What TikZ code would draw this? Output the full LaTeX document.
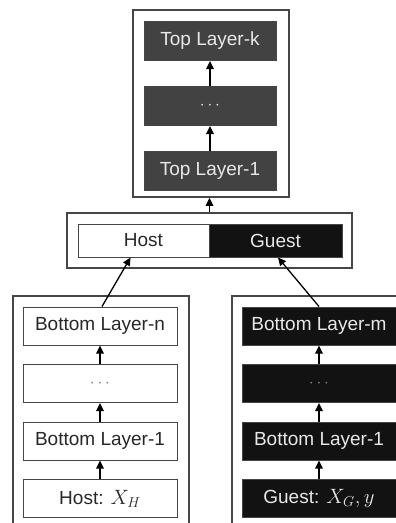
\documentclass[tikz,border=0pt]{standalone}
\usepackage{fontspec}
\setmainfont{Liberation Sans}
\usepackage{tikz}
\usetikzlibrary{positioning,arrows.meta,calc}
\definecolor{TopGray}{RGB}{66,66,66}
\definecolor{GuestBlack}{RGB}{18,18,18}
\definecolor{TextLight}{RGB}{232,232,232}
\definecolor{TextDark}{RGB}{40,40,40}
\definecolor{LineGray}{RGB}{70,70,70}
\newcommand{\bigmath}[1]{{\fontsize{22}{24}\selectfont$#1$}}

\begin{document}
\begin{tikzpicture}[
x=1pt,y=-1pt,
node distance=25pt,
layer/.style={rectangle,draw=LineGray,line width=1pt,fill=white,text=TextDark,minimum width=154pt,minimum height=38pt,inner sep=0pt,font=\fontsize{19}{22}\selectfont},
toplayer/.style={layer,fill=TopGray,text=TextLight,minimum width=132pt,minimum height=39pt},
guestlayer/.style={layer,fill=GuestBlack,text=TextLight},
frame/.style={rectangle,draw=LineGray,line width=1.5pt,inner sep=0pt},
arrow/.style={-{Triangle[length=8pt,width=7.5pt]},line width=1.3pt,draw=black}
]
\clip (0,0) rectangle (396,523);
\fill[white] (0,0) rectangle (396,523);
% top part
\node[frame,minimum width=156pt,minimum height=187pt] (topbox) at (211,103.5) {};
\node[toplayer] (tk) at (210,41) {Top Layer-k};
\node[toplayer,below=of tk] (tdots) {\fontsize{16}{18}\selectfont$\cdots$};
\node[toplayer,below=of tdots] (t1) {Top Layer-1};
\draw[arrow] (t1) -- (tdots); \draw[arrow] (tdots) -- (tk);
% interface
\node[frame,minimum width=285pt,minimum height=55pt] (midbox) at (209.5,240.5) {};
\node[layer,minimum width=131pt,minimum height=33pt] (host) at (143.5,240.5) {Host};
\node[guestlayer,minimum width=133pt,minimum height=33pt] (guest) at (275.5,240.5) {Guest};
\draw[arrow] (midbox.north) -- (midbox.north |- topbox.south);
% host side
\node[frame,minimum width=176pt,minimum height=231pt] (hostbox) at (101,411.5) {};
\node[layer] (bn) at (100,326) {Bottom Layer-n};
\node[layer,below=18.5pt of bn] (hdots) {\fontsize{16}{18}\selectfont\color{gray}$\cdots$};
\node[layer,below=18.5pt of hdots] (h1) {Bottom Layer-1};
\node[layer,below=18.5pt of h1] (hin) {Host: \bigmath{X_H}};
\draw[arrow] (hin) -- (h1); \draw[arrow] (h1) -- (hdots); \draw[arrow] (hdots) -- (bn);
% guest side
\node[frame,minimum width=176pt,minimum height=231pt] (guestbox) at (320,411.5) {};
\node[guestlayer] (bm) at (319,326) {Bottom Layer-m};
\node[guestlayer,below=18.5pt of bm] (gdots) {\fontsize{16}{18}\selectfont\color{gray}$\cdots$};
\node[guestlayer,below=18.5pt of gdots] (g1) {Bottom Layer-1};
\node[guestlayer,below=18.5pt of g1] (gin) {Guest: \bigmath{X_G, y}};
\draw[arrow] (gin) -- (g1); \draw[arrow] (g1) -- (gdots); \draw[arrow] (gdots) -- (bm);
% to interface
\draw[arrow] ($(bn.north)+(2,0)$) -- ($(host.south)+(-13,0)$);
\draw[arrow] (bm.north) -- ($(guest.south)+(2.5,0)$);
\end{tikzpicture}
\end{document}
